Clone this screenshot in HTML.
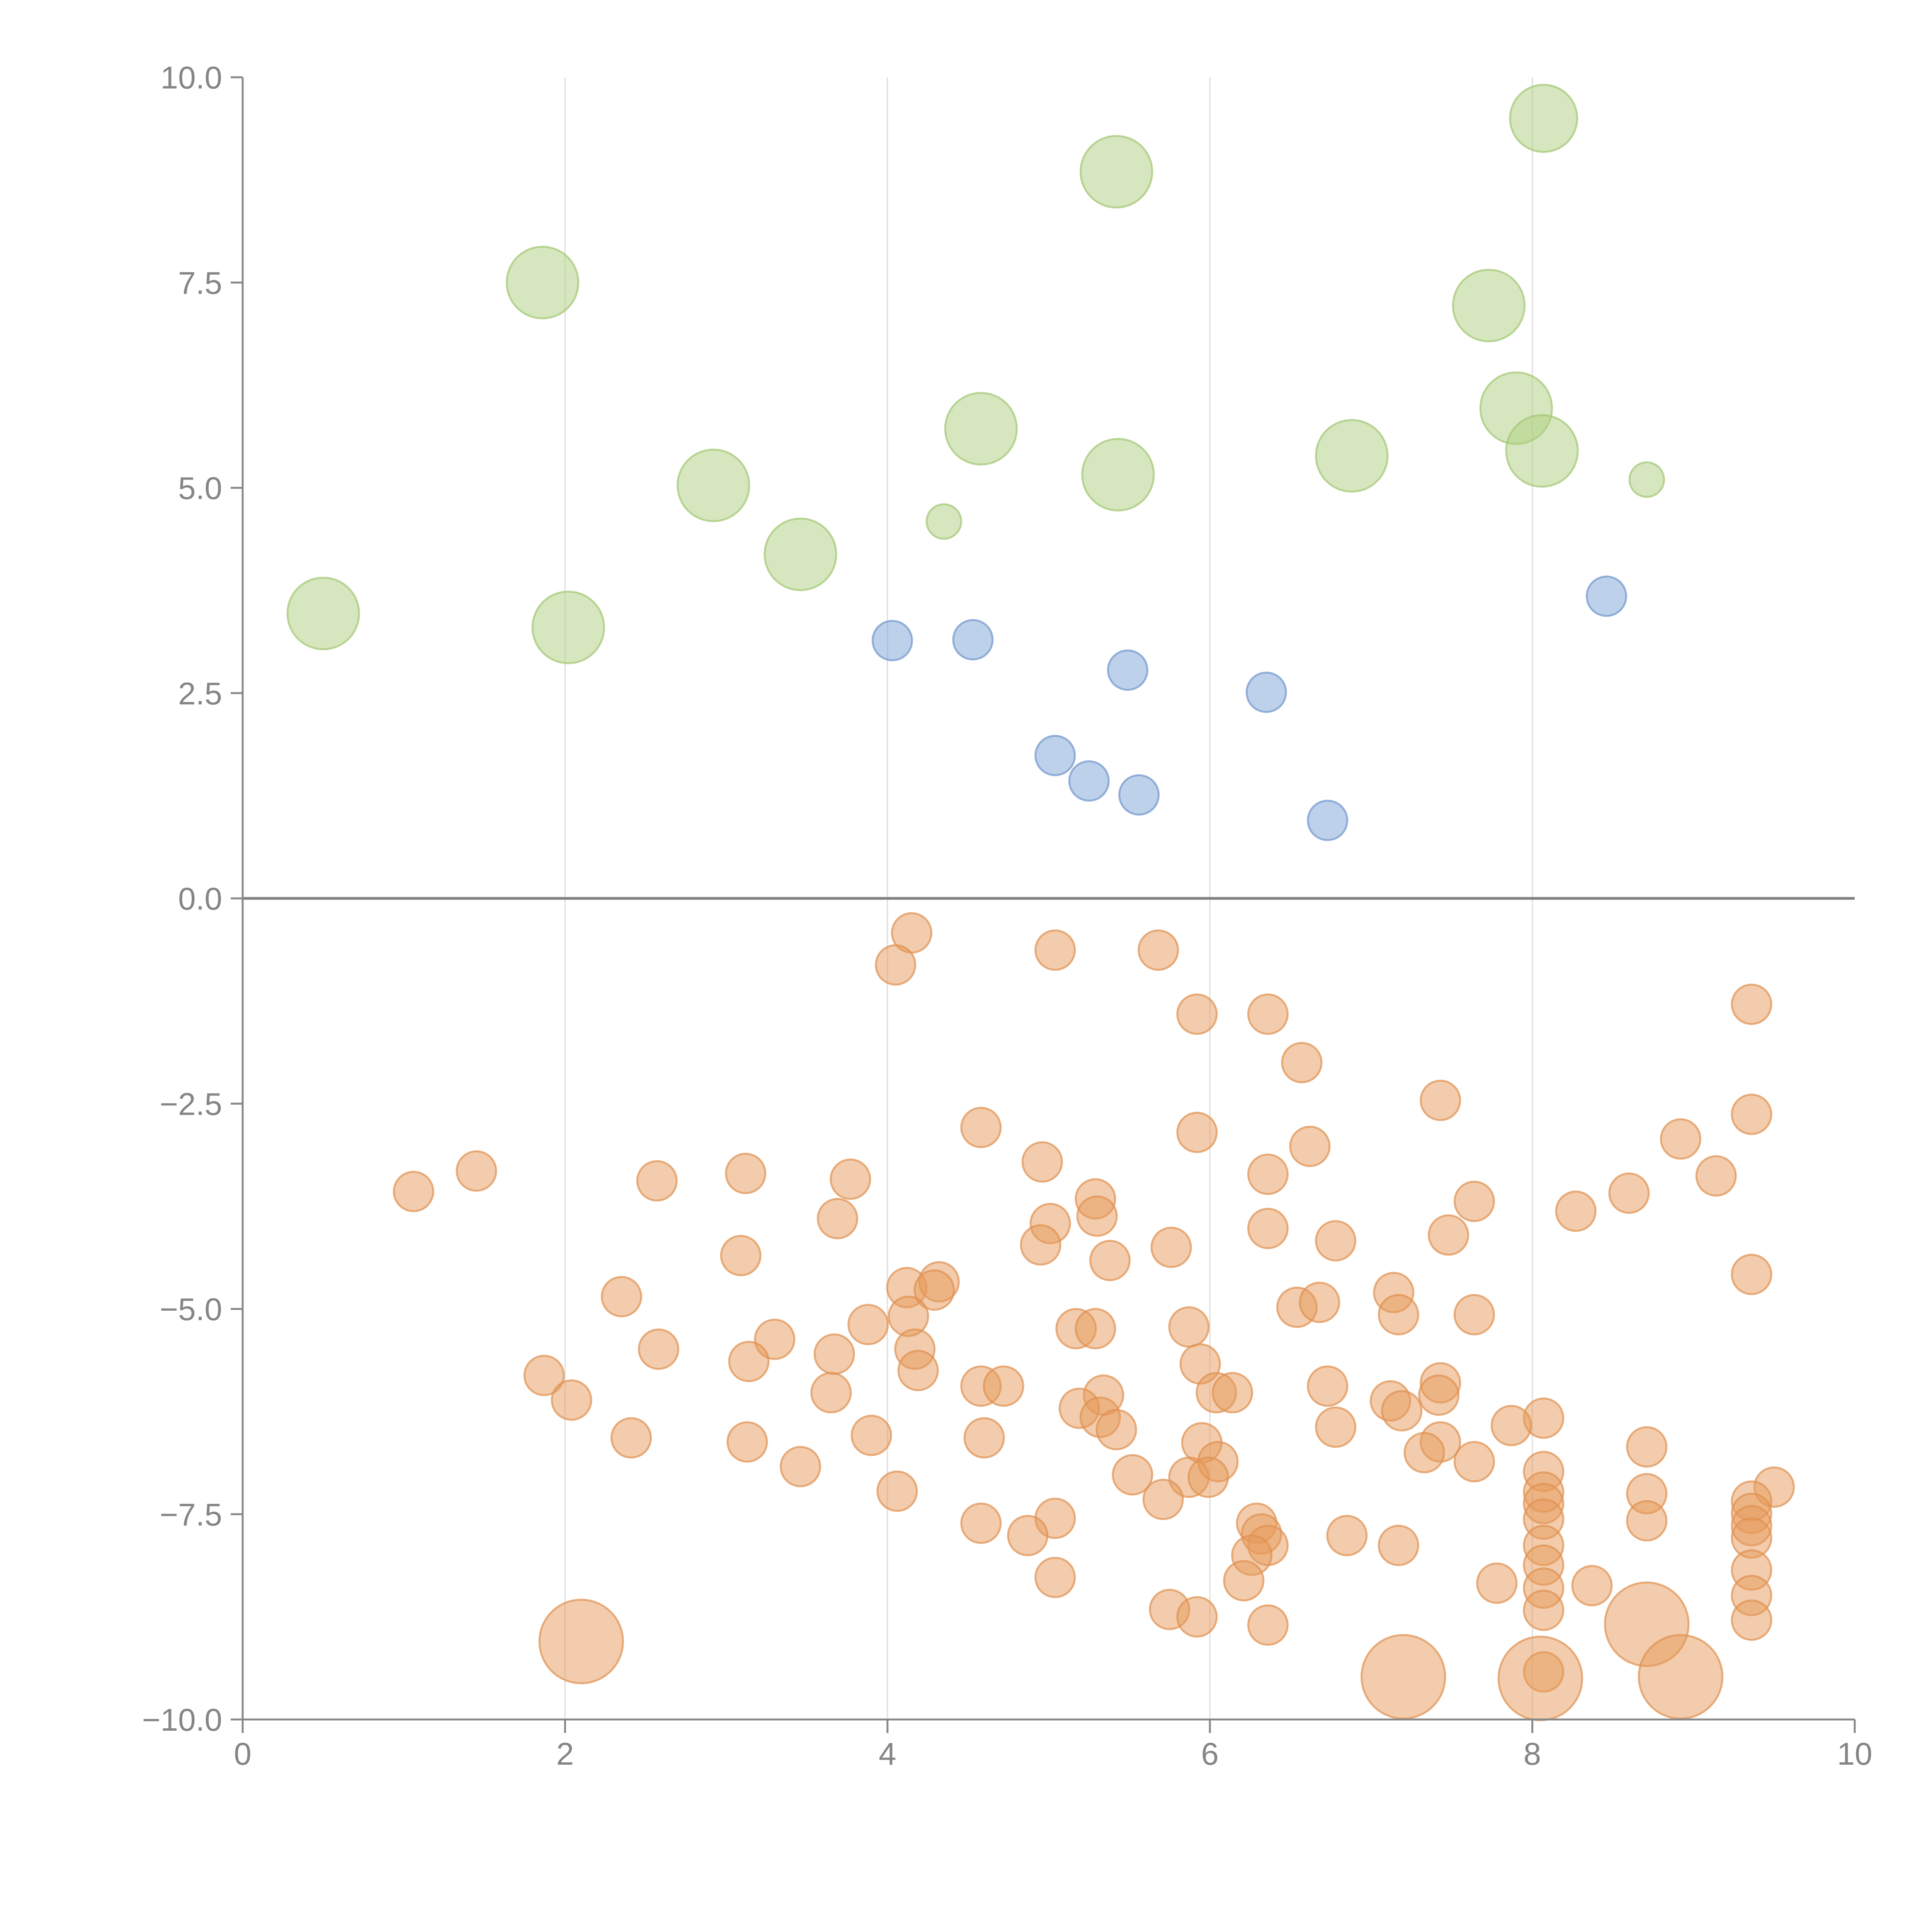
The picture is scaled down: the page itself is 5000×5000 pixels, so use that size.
<!DOCTYPE html>
<html><head><meta charset="utf-8"><style>html,body{margin:0;padding:0;background:#fff}svg{display:block}</style></head>
<body>
<svg id="chart" width="5000" height="5000" viewBox="0 0 5000 5000" xmlns="http://www.w3.org/2000/svg" font-family="Liberation Sans, Arial, sans-serif"></svg>
<script>
const xTicks = [0, 2, 4, 6, 8, 10];
const xTickLabels = ["0", "2", "4", "6", "8", "10"];
const yTicks = [10, 7.5, 5, 2.5, 0, -2.5, -5, -7.5, -10];
const yTickLabels = ["10.0", "7.5", "5.0", "2.5", "0.0", "\u22122.5", "\u22125.0", "\u22127.5", "\u221210.0"];

const greenX = [0.50,1.86,2.02,2.92,3.46,4.35,4.58,5.42,5.43,6.88,7.73,7.90,8.06,8.07,8.71];
const greenY = [3.47,7.50,3.30,5.03,4.19,4.59,5.72,8.85,5.16,5.39,7.22,5.97,5.45,9.50,5.10];
const greenS = [3.3,3.3,3.3,3.3,3.3,0.77,3.3,3.3,3.3,3.3,3.3,3.3,3.3,2.9,0.77];

const blueX = [4.03,4.53,5.49,6.35,5.04,5.25,5.56,6.73,8.46];
const blueY = [3.14,3.15,2.78,2.51,1.74,1.43,1.26,0.95,3.68];

const orangeX = [4.15,4.05,5.04,5.68,5.92,6.36,9.36,6.57,7.43,9.36,4.58,5.92,4.96,8.92,6.62,1.06,1.45,2.57,3.12,3.77,6.36,9.14,8.60,5.29,5.30,3.69,8.27,7.64,5.01,6.36,7.48,4.95,5.76,6.78,5.38,3.09,9.36,4.12,4.32,4.29,2.35,7.14,6.54,6.68,4.13,7.17,7.64,3.88,5.17,5.29,5.87,3.30,4.17,2.58,3.67,5.94,3.14,1.87,4.19,7.43,4.58,4.72,6.73,5.34,6.04,6.14,7.42,3.65,2.04,7.12,5.19,7.19,8.07,5.32,5.42,6.78,7.87,2.41,3.13,3.90,4.60,5.95,7.43,7.33,8.71,6.05,7.64,3.46,8.07,5.52,5.87,5.99,9.50,4.06,9.36,8.71,8.07,9.36,8.07,5.71,9.36,8.07,5.04,4.58,8.71,6.29,9.36,6.32,4.87,6.85,7.17,6.36,8.07,6.26,8.07,9.36,6.21,5.04,7.78,8.37,8.07,9.36,5.75,8.07,5.92,6.36,9.36,8.07];
const orangeY = [-0.42,-0.81,-0.63,-0.63,-1.41,-1.41,-1.29,-2.00,-2.46,-2.63,-2.79,-2.85,-3.21,-2.93,-3.02,-3.57,-3.32,-3.44,-3.35,-3.42,-3.36,-3.38,-3.59,-3.66,-3.87,-3.90,-3.81,-3.69,-3.96,-4.02,-4.10,-4.22,-4.25,-4.17,-4.41,-4.35,-4.58,-4.74,-4.67,-4.77,-4.85,-4.80,-4.98,-4.92,-5.09,-5.07,-5.07,-5.19,-5.24,-5.24,-5.22,-5.37,-5.49,-5.49,-5.55,-5.67,-5.64,-5.81,-5.75,-5.90,-5.94,-5.94,-5.94,-6.05,-6.02,-6.02,-6.05,-6.02,-6.11,-6.12,-6.21,-6.24,-6.33,-6.32,-6.47,-6.44,-6.42,-6.57,-6.62,-6.54,-6.57,-6.63,-6.62,-6.75,-6.68,-6.86,-6.86,-6.92,-6.98,-7.02,-7.05,-7.05,-7.17,-7.22,-7.34,-7.25,-7.23,-7.49,-7.37,-7.32,-7.64,-7.56,-7.55,-7.61,-7.58,-7.61,-7.79,-7.74,-7.76,-7.76,-7.88,-7.88,-7.88,-8.00,-8.12,-8.18,-8.31,-8.27,-8.34,-8.37,-8.40,-8.49,-8.66,-8.67,-8.75,-8.85,-8.79,-9.42];

const orangeBigX = [2.10,7.20,8.05,8.71,8.92];
const orangeBigY = [-9.05,-9.48,-9.50,-8.84,-9.48];
const orangeBigS = [4.5,4.5,4.5,4.5,4.5];

const X0 = 628, X1 = 4800, YT = 200, YB = 4450;
const sx = v => X0 + (v - 0) / 10 * (X1 - X0);
const sy = v => YB - (v + 10) / 20 * (YB - YT);
const sr = s => 51 * Math.sqrt(s);
const NS = "http://www.w3.org/2000/svg";
const svg = document.getElementById('chart');
function mk(tag, attrs, parent) {
  const e = document.createElementNS(NS, tag);
  for (const k in attrs) e.setAttribute(k, attrs[k]);
  (parent || svg).appendChild(e);
  return e;
}

const grid = mk('g', {});


[2, 4, 6, 8].forEach(v => {
  const l = mk('line', {x1: sx(v), x2: sx(v), y1: YT, y2: YB, stroke: '#dddddd', 'stroke-width': 3}, grid);
  
  
});

function series(xs, ys, ss, fill, stroke, name) {
  const g = mk('g', {});
  
  
  xs.forEach((x, i) => {
    const s = (ss && ss[i] !== undefined) ? ss[i] : 1;
    const c = mk('circle', {cx: sx(x), cy: sy(ys[i]), r: sr(s), fill: fill, 'fill-opacity': 0.5, stroke: stroke, 'stroke-opacity': 0.7, 'stroke-width': 5}, g);
    
    
  });
}
series(greenX, greenY, greenS, '#add07f', '#a3c672', 'green');
series(blueX, blueY, null, '#7ea3d6', '#6f95cc', 'blue');
series(orangeX, orangeY, null, '#e69a5a', '#e09050', 'orange');
series(orangeBigX, orangeBigY, orangeBigS, '#e69a5a', '#e09050', 'orange-large');

const zl = mk('line', {x1: X0, x2: X1, y1: sy(0), y2: sy(0), stroke: '#808080', 'stroke-width': 7});



const ax = mk('g', {});


const ya = mk('line', {x1: X0, x2: X0, y1: YT, y2: YB, stroke: '#888', 'stroke-width': 5}, ax);


const xa = mk('line', {x1: X0, x2: X1, y1: YB, y2: YB, stroke: '#888', 'stroke-width': 5}, ax);



yTicks.forEach((v, i) => {
  const t = mk('line', {x1: X0 - 31, x2: X0, y1: sy(v), y2: sy(v), stroke: '#888', 'stroke-width': 5}, ax);
  
  
  const tx = mk('text', {x: 575, y: sy(v) + 29, 'text-anchor': 'end', 'font-size': 82, fill: '#858585'}, ax);
  tx.textContent = yTickLabels[i];
  
  
});
xTicks.forEach((v, i) => {
  const t = mk('line', {x1: sx(v), x2: sx(v), y1: YB, y2: YB + 35, stroke: '#888', 'stroke-width': 5}, ax);
  
  
  const tx = mk('text', {x: sx(v), y: 4567, 'text-anchor': 'middle', 'font-size': 82, fill: '#858585'}, ax);
  tx.textContent = xTickLabels[i];
  
  
});
</script>
</body></html>
